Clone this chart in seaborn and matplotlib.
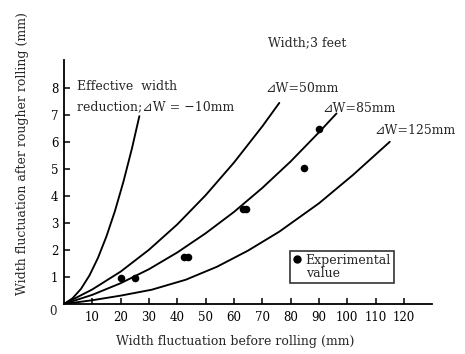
import matplotlib
matplotlib.use("Agg")
import matplotlib.pyplot as plt
import seaborn as sns
import pandas as pd
from matplotlib.lines import Line2D

# ---- data ----
x_m10 = [0, 3, 6, 9, 12, 15, 18, 21, 24, 26.6]
y_m10 = [0, 0.21, 0.56, 1.06, 1.71, 2.51, 3.45, 4.54, 5.77, 6.96]

x_50 = [0, 10, 20, 30, 40, 50, 60, 70, 76]
y_50 = [0, 0.54, 1.20, 2.01, 2.95, 4.03, 5.24, 6.58, 7.45]

x_85 = [0, 10, 20, 30, 40, 50, 60, 70, 80, 90, 96.2]
y_85 = [0, 0.34, 0.77, 1.29, 1.91, 2.62, 3.41, 4.30, 5.28, 6.36, 7.06]

x_125 = [0, 10, 20, 31, 43, 54, 65, 76, 90, 102, 115]
y_125 = [0, 0.14, 0.31, 0.53, 0.90, 1.38, 1.98, 2.68, 3.73, 4.78, 6.01]

exp_x = [20.0, 25.0, 42.4, 43.6, 63.2, 64.4, 84.8, 90.0]
exp_y = [0.95, 0.96, 1.75, 1.75, 3.52, 3.52, 5.03, 6.50]

xticks = [10, 20, 30, 40, 50, 60, 70, 80, 90, 100, 110, 120]
yticks = [1, 2, 3, 4, 5, 6, 7, 8]

curve_names = ["m10", "50", "85", "125"]
curves = pd.concat([
    pd.DataFrame({"x": xs, "y": ys, "curve": n})
    for n, xs, ys in zip(curve_names, [x_m10, x_50, x_85, x_125], [y_m10, y_50, y_85, y_125])
])
exp = pd.DataFrame({"x": exp_x, "y": exp_y, "kind": "Experimental"})

sns.set_style("ticks")
plt.rcParams["font.family"] = ["DejaVu Serif", "DejaVu Sans"]
plt.rcParams["axes.linewidth"] = 1.3

fig = plt.figure(figsize=(4.65, 3.54), dpi=100)
ax = fig.add_axes([64 / 465, 50 / 354, (431.7 - 64) / 465, 244 / 354])

sns.lineplot(data=curves, x="x", y="y", units="curve", estimator=None, sort=False,
             color="black", linewidth=1.35, ax=ax, legend=False)
sns.scatterplot(data=exp, x="x", y="y", color="black", s=30, edgecolor="black",
                linewidth=0, ax=ax, legend=False, zorder=5)

ax.set_xlim(0, 129.8)
ax.set_ylim(0, 9.04)
ax.set_xticks(xticks)
ax.set_yticks(yticks)
ax.tick_params(direction="in", length=4, width=1.1, labelsize=8.5, colors="black")
ax.tick_params(axis="x", pad=5)
ax.tick_params(axis="y", pad=4)
for s in ["top", "right"]:
    ax.spines[s].set_visible(False)
for s in ["left", "bottom"]:
    ax.spines[s].set_color("black")

ax.set_xlabel("Width fluctuation before rolling (mm)", fontsize=9)
ax.set_ylabel("Width fluctuation after rougher rolling (mm)", fontsize=9)
ax.xaxis.set_label_coords(0.465, -0.128)
ax.yaxis.set_label_coords(-0.095, 0.615)
ax.text(-2.5, -0.26, "0", fontsize=8.5, ha="right", va="center")

tfont = dict(fontsize=9, va="center", ha="left", clip_on=False)
ax.text(4.6, 8.04, "Effective  width", **tfont)
ax.text(4.6, 7.30, "reduction;⊿W = −10mm", **tfont)
ax.text(70.9, 8.0, "⊿W=50mm", **tfont)
ax.text(91.1, 7.26, "⊿W=85mm", **tfont)
ax.text(109.4, 6.41, "⊿W=125mm", **tfont)
ax.text(85.8, 9.67, "Width;3 feet", fontsize=9, ha="center", va="center", clip_on=False)

h1 = Line2D([], [], marker="o", color="black", linestyle="none", markersize=5)
h2 = Line2D([], [], linestyle="none")
leg = ax.legend([h1, h2], ["Experimental", "value"], loc="upper left",
                bbox_to_anchor=(290 / 465, 1 - 250.7 / 354), bbox_transform=fig.transFigure,
                fontsize=9, frameon=True, fancybox=False, labelspacing=0.0,
                handlelength=0.6, handletextpad=0.4, borderpad=0.25, borderaxespad=0)
leg.get_frame().set_edgecolor("black")
leg.get_frame().set_linewidth(1.2)

fig.savefig("out.png", dpi=100)
